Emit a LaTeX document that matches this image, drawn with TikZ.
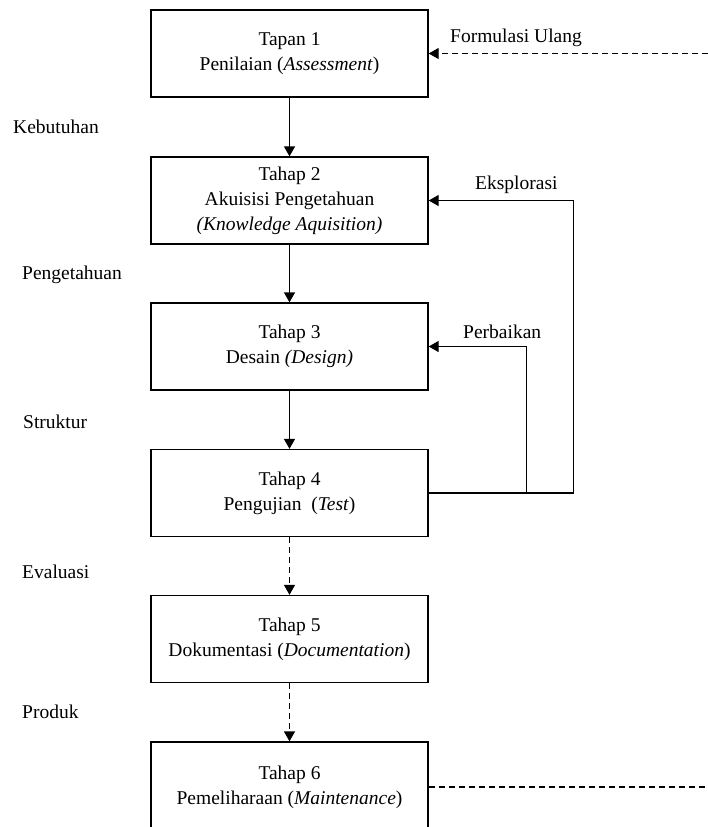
\documentclass[tikz,border=0pt]{standalone}
\usepackage{fontspec}
\setmainfont{Liberation Serif}
\usetikzlibrary{arrows.meta,positioning}
\tikzset{
  tahapbox/.style={draw,line width=1.4pt,minimum width=277pt,minimum height=87pt,
    align=center,inner sep=0pt,font=\fontsize{19.5}{25}\selectfont},
  sidelbl/.style={anchor=west,inner sep=0pt,font=\fontsize{19.5}{25}\selectfont},
  flow/.style={-{Triangle[length=10pt,width=11pt]},line width=1.4pt},
  dashflow/.style={flow,dash pattern=on 6pt off 4pt},
}
\begin{document}
\begin{tikzpicture}[x=1pt,y=-1pt]
  \useasboundingbox (0,0) rectangle (708,827);
  % tahapan
  \node[tahapbox] (t1) at (289.5,53.5) {Tapan 1\\Penilaian (\textit{Assessment})};
  \node[tahapbox] (t2) at (289.5,200.5) {Tahap 2\\Akuisisi Pengetahuan\\\textit{(Knowledge Aquisition)}};
  \node[tahapbox] (t3) at (289.5,346.5) {Tahap 3\\Desain \textit{(Design)}};
  \node[tahapbox] (t4) at (289.5,493) {Tahap 4\\Pengujian \ (\textit{Test})};
  \node[tahapbox] (t5) at (289.5,639) {Tahap 5\\Dokumentasi (\textit{Documentation})};
  \node[tahapbox,minimum height=90pt] (t6) at (289.5,787) {Tahap 6\\Pemeliharaan (\textit{Maintenance})};
  % hasil tiap tahap
  \node[sidelbl] (kebutuhan) at (13,127) {Kebutuhan};
  \node[sidelbl] (pengetahuan) at (22,275) {Pengetahuan};
  \node[sidelbl] (struktur) at (23,422) {Struktur};
  \node[sidelbl] (evaluasi) at (22,572) {Evaluasi};
  \node[sidelbl] (produk) at (22,712) {Produk};
  % alur utama
  \draw[flow] (t1) -- (t2);
  \draw[flow] (t2) -- (t3);
  \draw[flow] (t3) -- (t4);
  \draw[dashflow] (t4) -- (t5);
  \draw[dashflow] (t5) -- (t6);
  % umpan balik
  \draw[flow] (t4.east) -- ++(145,0) |- (t2.east);
  \draw[flow] (t4.east) -- ++(98,0) |- (t3.east);
  \node[sidelbl] (eksplorasi) at (475,185) {Eksplorasi};
  \node[sidelbl] (perbaikan) at (463,332) {Perbaikan};
  \coordinate (ulangmasuk) at (708,53.5);
  \coordinate (ulangkeluar) at (708,787);
  \draw[dashflow] (ulangmasuk) -- (t1.east);
  \draw[line width=1.4pt,dash pattern=on 6pt off 4pt] (t6.east) -- (ulangkeluar);
  \node[sidelbl] (formulasi) at (450,38) {Formulasi Ulang};
\end{tikzpicture}
\end{document}
